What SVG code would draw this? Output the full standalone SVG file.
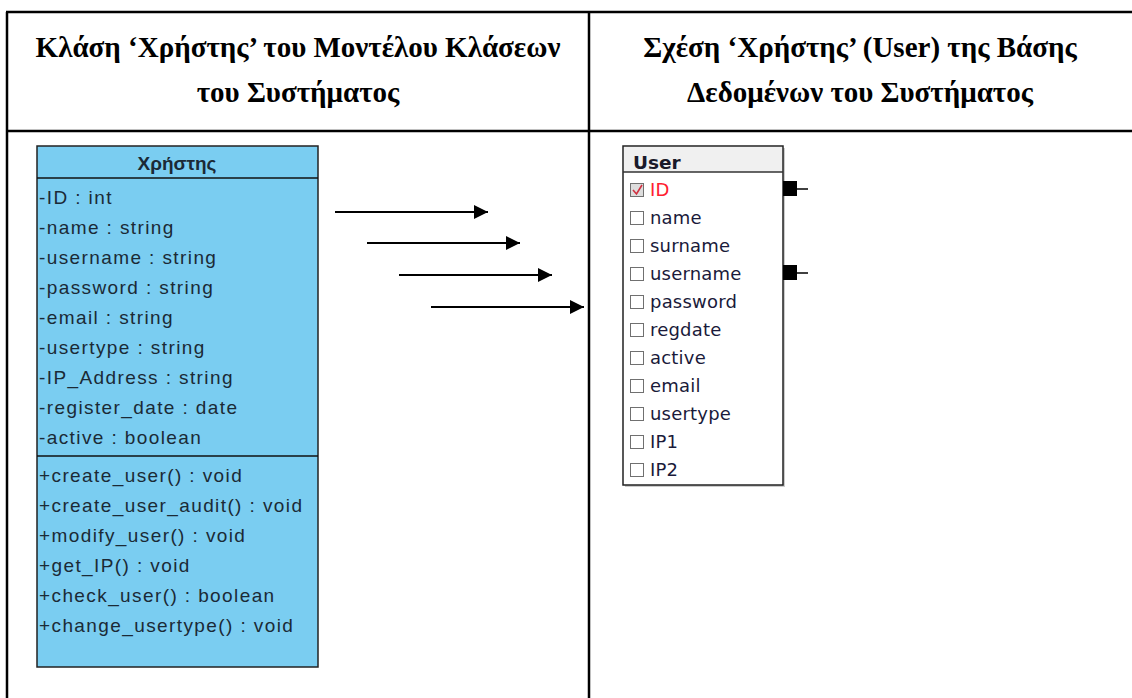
<svg xmlns="http://www.w3.org/2000/svg" width="1132" height="698" viewBox="0 0 1132 698">
<style>
.hdr{font-family:"Liberation Serif","Times New Roman",serif;font-weight:bold;font-size:29px;fill:#000;text-anchor:middle}
.uml{font-family:"Liberation Sans",Arial,sans-serif;font-size:19px;letter-spacing:1.4px;fill:#1b2a36}
.umlt{font-family:"Liberation Sans",Arial,sans-serif;font-size:19px;font-weight:bold;fill:#1b2a36;text-anchor:middle}
.db{font-family:"DejaVu Sans",Verdana,sans-serif;font-size:18px;letter-spacing:0.2px;fill:#1a1a3a}
.cb{fill:#fff;stroke:#707070;stroke-width:1}
.conn{stroke:#000;stroke-width:2.2;fill:none}
</style>
<defs>
<marker id="ah" viewBox="0 0 10 10" refX="10" refY="5" markerWidth="15" markerHeight="14" markerUnits="userSpaceOnUse" orient="auto">
<path d="M0,0 L10,5 L0,10 z" fill="#000"/>
</marker>
</defs>
<rect width="1132" height="698" fill="#fff"/>
<g id="table" stroke="#000" stroke-width="2.5">
<line x1="6" y1="12" x2="1132" y2="12"/>
<line x1="6" y1="131" x2="1132" y2="131"/>
<line x1="7" y1="12" x2="7" y2="698"/>
<line x1="589" y1="12" x2="589" y2="698"/>
</g>
<g id="headers">
<text class="hdr" x="298" y="57">Κλάση ‘Χρήστης’ του Μοντέλου Κλάσεων</text>
<text class="hdr" x="298" y="102">του Συστήματος</text>
<text class="hdr" x="860" y="57">Σχέση ‘Χρήστης’ (User) της Βάσης</text>
<text class="hdr" x="860" y="102">Δεδομένων του Συστήματος</text>
</g>
<g id="class-xristis">
<rect x="37" y="146" width="281" height="521" fill="#7acdf1" stroke="#222" stroke-width="1.5"/>
<line x1="37" y1="178" x2="318" y2="178" stroke="#111" stroke-width="1.5"/>
<line x1="37" y1="456" x2="318" y2="456" stroke="#111" stroke-width="1.5"/>
<text class="umlt" x="177" y="170">Χρήστης</text>
<text class="uml" x="39" y="204">-ID : int</text>
<text class="uml" x="39" y="234">-name : string</text>
<text class="uml" x="39" y="264">-username : string</text>
<text class="uml" x="39" y="294">-password : string</text>
<text class="uml" x="39" y="324">-email : string</text>
<text class="uml" x="39" y="354">-usertype : string</text>
<text class="uml" x="39" y="384">-IP_Address : string</text>
<text class="uml" x="39" y="414">-register_date : date</text>
<text class="uml" x="39" y="444">-active : boolean</text>
<text class="uml" x="39" y="482">+create_user() : void</text>
<text class="uml" x="39" y="512">+create_user_audit() : void</text>
<text class="uml" x="39" y="542">+modify_user() : void</text>
<text class="uml" x="39" y="572">+get_IP() : void</text>
<text class="uml" x="39" y="602">+check_user() : boolean</text>
<text class="uml" x="39" y="632">+change_usertype() : void</text>
</g>
<g id="table-user">
<rect x="625" y="148" width="160" height="339" fill="#999" opacity="0.5"/>
<rect x="623" y="146" width="160" height="339" fill="#fff" stroke="#222" stroke-width="1.5"/>
<rect x="624" y="147" width="158" height="25" fill="#f0f0f0"/>
<line x1="623" y1="172" x2="783" y2="172" stroke="#333" stroke-width="1.5"/>
<text x="633" y="169" font-family="DejaVu Sans,Verdana,sans-serif" font-size="18.5" font-weight="bold" fill="#1a1a2a">User</text>
<rect class="cb" x="630.5" y="183.5" width="13" height="13" style="fill:#ddd"/>
<path d="M633,190 L636.5,194 L642,185" stroke="#d03040" stroke-width="1.6" fill="none"/>
<text class="db" x="650" y="196" style="fill:#ff2030">ID</text>
<rect class="cb" x="630.5" y="211.5" width="13" height="13"/>
<text class="db" x="650" y="224">name</text>
<rect class="cb" x="630.5" y="239.5" width="13" height="13"/>
<text class="db" x="650" y="252">surname</text>
<rect class="cb" x="630.5" y="267.5" width="13" height="13"/>
<text class="db" x="650" y="280">username</text>
<rect class="cb" x="630.5" y="295.5" width="13" height="13"/>
<text class="db" x="650" y="308">password</text>
<rect class="cb" x="630.5" y="323.5" width="13" height="13"/>
<text class="db" x="650" y="336">regdate</text>
<rect class="cb" x="630.5" y="351.5" width="13" height="13"/>
<text class="db" x="650" y="364">active</text>
<rect class="cb" x="630.5" y="379.5" width="13" height="13"/>
<text class="db" x="650" y="392">email</text>
<rect class="cb" x="630.5" y="407.5" width="13" height="13"/>
<text class="db" x="650" y="420">usertype</text>
<rect class="cb" x="630.5" y="435.5" width="13" height="13"/>
<text class="db" x="650" y="448">IP1</text>
<rect class="cb" x="630.5" y="463.5" width="13" height="13"/>
<text class="db" x="650" y="476">IP2</text>
<rect x="783" y="181" width="14" height="15" fill="#000"/>
<line x1="797" y1="189" x2="808" y2="189" stroke="#000" stroke-width="1.5"/>
<rect x="783" y="265" width="14" height="15" fill="#000"/>
<line x1="797" y1="273" x2="808" y2="273" stroke="#000" stroke-width="1.5"/>
</g>
<g id="connectors">
<line class="conn" x1="335" y1="212" x2="488" y2="212" marker-end="url(#ah)"/>
<line class="conn" x1="367" y1="243" x2="520" y2="243" marker-end="url(#ah)"/>
<line class="conn" x1="399" y1="275" x2="552" y2="275" marker-end="url(#ah)"/>
<line class="conn" x1="431" y1="307" x2="584" y2="307" marker-end="url(#ah)"/>
</g>
</svg>
